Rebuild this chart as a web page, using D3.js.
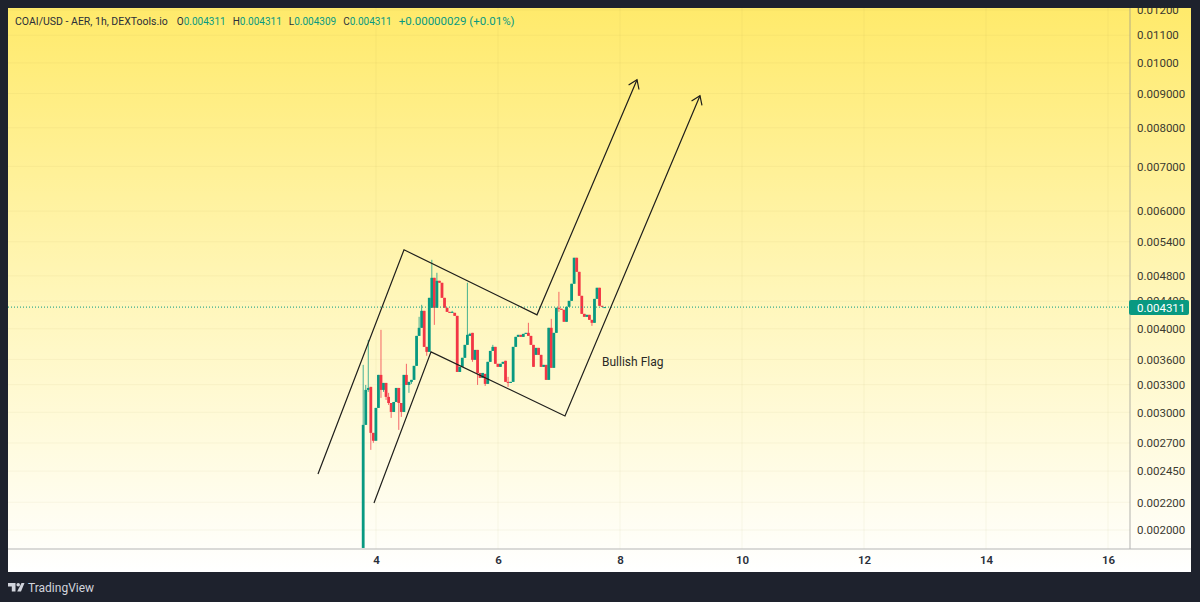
<!DOCTYPE html>
<html>
<head>
<meta charset="utf-8">
<title>COAI/USD</title>
<script src="https://cdn.jsdelivr.net/npm/d3@7"></script>
<style>
  html, body { margin: 0; padding: 0; background: #1e222d; }
  svg { display: block; }
  text { font-family: Roboto, "Noto Sans", sans-serif; }
</style>
</head>
<body>
<div id="chart"></div>
<script>
  // prices are in millionths of a dollar
  const opens = [1880,2873,3241,3275,2795,2720,3046,3413,3241,3320,3164,3098,3004,3109,3263,3098,3004,3413,3297,3332,3355,3521,3904,4014,4256,3759,3695,4301,4769,4301,4720,4688,4451,4301,4241,4227,4227,4183,3448,3509,3620,3785,3904,3945,3595,3720,3436,3378,3425,3309,3570,3707,3759,3546,3509,3546,3583,3332,3320,3332,3759,3891,3918,3891,3931,3945,3904,3785,3657,3746,3657,3509,3533,3355,4014,3497,3945,4301,4286,4271,4098,4316,4405,4672,5110,4868,4482,4212,4169,4198,4126,4084,4435,4608,4330,4311];
  const highs = [3533,3297,3851,3275,2795,3046,3413,3986,3320,3320,3208,3098,3109,3263,3263,3098,3413,3546,3332,3355,3521,3904,4169,4345,4256,3759,4451,5074,4769,4852,4720,4688,4451,4301,4241,4256,4227,4183,3509,3620,3785,4688,3945,3945,3720,3720,3436,3436,3425,3570,3707,3785,3759,3546,3546,3570,3583,3390,3332,3759,3891,3918,3918,3931,3945,4084,3904,3785,3746,3746,3657,3533,3533,4014,4140,3945,4301,4544,4286,4271,4316,4405,4672,5110,5110,4868,4482,4212,4198,4198,4126,4435,4608,4608,4330,4311];
  const lows = [1880,2873,3219,2636,2701,2720,3046,3153,3219,3131,3077,2943,3004,3109,2824,2953,3004,3297,3208,3309,3355,3521,3904,4014,3759,3645,3695,4301,4055,4301,4688,4451,4301,4241,4227,4227,4183,3448,3448,3509,3620,3785,3904,3570,3595,3297,3378,3378,3286,3309,3570,3707,3546,3509,3509,3546,3332,3275,3320,3332,3759,3891,3891,3891,3931,3904,3785,3509,3657,3657,3509,3509,3355,3355,3497,3497,3945,4241,4271,4098,4098,4316,4405,4672,4868,4482,4212,4169,4169,4126,4041,4084,4435,4330,4316,4309];
  const closes = [2873,3241,3263,2795,2720,3046,3413,3241,3320,3164,3098,3004,3109,3263,3098,3004,3413,3297,3332,3355,3521,3904,4014,4256,3759,3695,4451,4769,4301,4720,4688,4451,4301,4241,4227,4241,4183,3448,3509,3620,3785,3918,3931,3595,3720,3436,3378,3436,3309,3570,3707,3759,3546,3509,3546,3570,3332,3320,3332,3759,3891,3918,3891,3931,3945,3904,3785,3509,3746,3657,3509,3533,3355,4014,3497,3945,4301,4286,4271,4098,4316,4405,4672,5110,4868,4482,4212,4169,4198,4126,4084,4435,4608,4330,4316,4311];

  const priceTicks = [12000,11000,10000,9000,8000,7000,6000,5400,4800,4400,4000,3600,3300,3000,2700,2450,2200,2000];
  const priceLabels = ["0.01200","0.01100","0.01000","0.009000","0.008000","0.007000","0.006000","0.005400","0.004800","0.004400","0.004000","0.003600","0.003300","0.003000","0.002700","0.002450","0.002200","0.002000"];
  const dayTicks = [4,6,8,10,12,14,16];

  // hand drawn flag, as [day, price]
  const upperLine = [[3.049,2426],[4.459,5252],[6.639,4198],[8.279,9438]];
  const lowerLine = [[3.967,2195],[4.902,3695],[7.098,2963],[9.311,8932]];
  const noteAt = [7.705,3570];
  const noteText = "Bullish Flag";

  const lastPrice = 4311;
  const lastLabel = "0.004311";
  const headerName = "COAI/USD - AER, 1h, DEXTools.io";
  const headerOhlc = [["O","0.004311"],["H","0.004311"],["L","0.004309"],["C","0.004311"]];
  const headerChange = "+0.00000029 (+0.01%)";

  const firstBarDay = 3.79;
  const hoursPerDay = 24;

  const WIDTH = 1200;
  const HEIGHT = 602;
  const panel = { left: 8, top: 8, right: 1191, bottom: 572 };
  const plotRight = 1130;
  const plotBottom = 549;
  const UP = "#089981";
  const DOWN = "#f23645";

  const x = d3.scaleLinear().domain([4, 16]).range([376, 1108]);
  const y = d3.scaleLog().domain([2000, 12000]).range([530, 10]);

  const svg = d3.select("#chart").append("svg")
    .attr("width", WIDTH)
    .attr("height", HEIGHT)
    .attr("viewBox", `0 0 ${WIDTH} ${HEIGHT}`);

  const defs = svg.append("defs");
  const grad = defs.append("linearGradient")
    .attr("id", "bg")
    .attr("x1", 0).attr("x2", 0).attr("y1", 0).attr("y2", 1);
  grad.append("stop").attr("offset", "0%").attr("stop-color", "#ffea6b");
  grad.append("stop").attr("offset", "50%").attr("stop-color", "#fff6b8");
  grad.append("stop").attr("offset", "100%").attr("stop-color", "#ffffff");

  defs.append("clipPath").attr("id", "panelClip").append("rect")
    .attr("x", panel.left).attr("y", panel.top)
    .attr("width", panel.right - panel.left)
    .attr("height", panel.bottom - panel.top);
  defs.append("clipPath").attr("id", "plotClip").append("rect")
    .attr("x", panel.left).attr("y", panel.top)
    .attr("width", plotRight - panel.left)
    .attr("height", plotBottom - panel.top);

  svg.append("rect")
    .attr("width", WIDTH).attr("height", HEIGHT)
    .attr("fill", "#1e222d");

  const root = svg.append("g").attr("clip-path", "url(#panelClip)");
  root.append("rect")
    .attr("x", panel.left).attr("y", panel.top)
    .attr("width", panel.right - panel.left)
    .attr("height", panel.bottom - panel.top)
    .attr("fill", "url(#bg)");

  // faint grid
  const grid = root.append("g").attr("clip-path", "url(#plotClip)");
  grid.selectAll(".h").data(priceTicks).join("line")
    .attr("x1", panel.left).attr("x2", plotRight)
    .attr("y1", (d) => y(d)).attr("y2", (d) => y(d))
    .attr("stroke", "#9a8f4a").attr("stroke-opacity", 0.07);
  grid.selectAll(".v").data(dayTicks).join("line")
    .attr("x1", (d) => x(d)).attr("x2", (d) => x(d))
    .attr("y1", panel.top).attr("y2", plotBottom)
    .attr("stroke", "#9a8f4a").attr("stroke-opacity", 0.07);

  // axes
  const priceAxis = d3.axisRight(y)
    .tickValues(priceTicks)
    .tickSize(0)
    .tickPadding(7)
    .tickFormat((d) => priceLabels[priceTicks.indexOf(d)]);
  const timeAxis = d3.axisBottom(x)
    .tickValues(dayTicks)
    .tickSize(0)
    .tickPadding(7)
    .tickFormat(d3.format("d"));

  const yAxisG = root.append("g")
    .attr("transform", `translate(${plotRight},0)`)
    .call(priceAxis);
  const xAxisG = root.append("g")
    .attr("transform", `translate(0,${plotBottom})`)
    .call(timeAxis);
  yAxisG.select(".domain").remove();
  xAxisG.select(".domain").remove();
  yAxisG.selectAll("text")
    .attr("font-size", 11.5).attr("font-family", "Roboto").attr("fill", "#3b3a30");
  xAxisG.selectAll("text")
    .attr("font-size", 11.5).attr("font-family", "Roboto").attr("font-weight", 600).attr("fill", "#2a2e39");

  root.append("line")
    .attr("x1", plotRight).attr("x2", plotRight)
    .attr("y1", panel.top).attr("y2", plotBottom)
    .attr("stroke", "#8f8f8f").attr("stroke-opacity", 0.45).attr("stroke-width", 1.5);
  root.append("line")
    .attr("x1", panel.left).attr("x2", panel.right)
    .attr("y1", plotBottom).attr("y2", plotBottom)
    .attr("stroke", "#b5b5b5").attr("stroke-width", 1);

  // candles
  const barX = (i) => x(firstBarDay + i / hoursPerDay);
  const plot = root.append("g").attr("clip-path", "url(#plotClip)");
  const bars = plot.selectAll("g.bar").data(opens).join("g").attr("class", "bar");
  const barColor = (i) => (closes[i] >= opens[i] ? UP : DOWN);

  bars.append("line")
    .attr("x1", (d, i) => barX(i)).attr("x2", (d, i) => barX(i))
    .attr("y1", (d, i) => y(highs[i])).attr("y2", (d, i) => y(lows[i]))
    .attr("stroke", (d, i) => barColor(i))
    .attr("stroke-opacity", 0.75)
    .attr("stroke-width", 1);
  bars.append("rect")
    .attr("x", (d, i) => barX(i) - 1.4)
    .attr("width", 2.8)
    .attr("y", (d, i) => y(Math.max(opens[i], closes[i])))
    .attr("height", (d, i) => Math.max(1, Math.abs(y(opens[i]) - y(closes[i]))))
    .attr("fill", (d, i) => barColor(i));

  // last price line
  plot.append("line")
    .attr("x1", panel.left).attr("x2", plotRight)
    .attr("y1", y(lastPrice)).attr("y2", y(lastPrice))
    .attr("stroke", UP).attr("stroke-width", 1).attr("stroke-dasharray", "1 2");

  // flag lines with arrow heads
  const flagPath = d3.line().x((d) => x(d[0])).y((d) => y(d[1]));
  const arrowSize = 10;

  function drawArrowLine(points) {
    plot.append("path")
      .attr("d", flagPath(points))
      .attr("fill", "none")
      .attr("stroke", "#1f1f1c")
      .attr("stroke-width", 1.2);

    const a = points[points.length - 2];
    const b = points[points.length - 1];
    const tipX = x(b[0]);
    const tipY = y(b[1]);
    const angle = Math.atan2(tipY - y(a[1]), tipX - x(a[0]));
    const wing = (offset) => [
      tipX - arrowSize * Math.cos(angle + offset),
      tipY - arrowSize * Math.sin(angle + offset),
    ];
    plot.append("path")
      .attr("d", d3.line()([wing(0.6), [tipX, tipY], wing(-0.6)]))
      .attr("fill", "none")
      .attr("stroke", "#1f1f1c")
      .attr("stroke-width", 1.2);
  }
  drawArrowLine(upperLine);
  drawArrowLine(lowerLine);

  plot.append("text")
    .attr("x", x(noteAt[0]))
    .attr("y", y(noteAt[1]))
    .attr("dy", "0.35em")
    .attr("font-size", 12)
    .attr("fill", "#2a2a26")
    .text(noteText);

  // last price tag
  root.append("rect")
    .attr("x", plotRight - 1).attr("y", y(lastPrice) - 7)
    .attr("width", 60).attr("height", 15).attr("rx", 2)
    .attr("fill", UP);
  root.append("text")
    .attr("x", plotRight + 7).attr("y", y(lastPrice) + 0.5)
    .attr("dy", "0.35em")
    .attr("font-size", 11.5)
    .attr("fill", "#ffffff")
    .text(lastLabel);

  // header legend
  const header = root.append("text")
    .attr("x", 15).attr("y", 25)
    .attr("font-size", 10.5)
    .attr("fill", "#2a2e39");
  header.append("tspan").text(headerName);
  headerOhlc.forEach((item, i) => {
    header.append("tspan").attr("dx", i === 0 ? 9 : 7).attr("font-size", 10).text(item[0]);
    header.append("tspan").attr("fill", UP).attr("font-size", 10).text(item[1]);
  });
  header.append("tspan").attr("dx", 7).attr("fill", UP).attr("font-size", 11.5).text(headerChange);

  // footer logo
  const logo = svg.append("g").attr("transform", "translate(8,583)").attr("fill", "#d1d4dc");
  logo.append("path").attr("d", "M0 0H7.5V8.5H3.8V3.6H0Z");
  logo.append("circle").attr("cx", 10.2).attr("cy", 1.8).attr("r", 1.8);
  logo.append("path").attr("d", "M13.5 0H16.5L13 8.5H9.2Z");
  svg.append("text")
    .attr("x", 28).attr("y", 592)
    .attr("font-size", 12)
    .attr("fill", "#d1d4dc")
    .text("TradingView");
</script>
</body>
</html>
